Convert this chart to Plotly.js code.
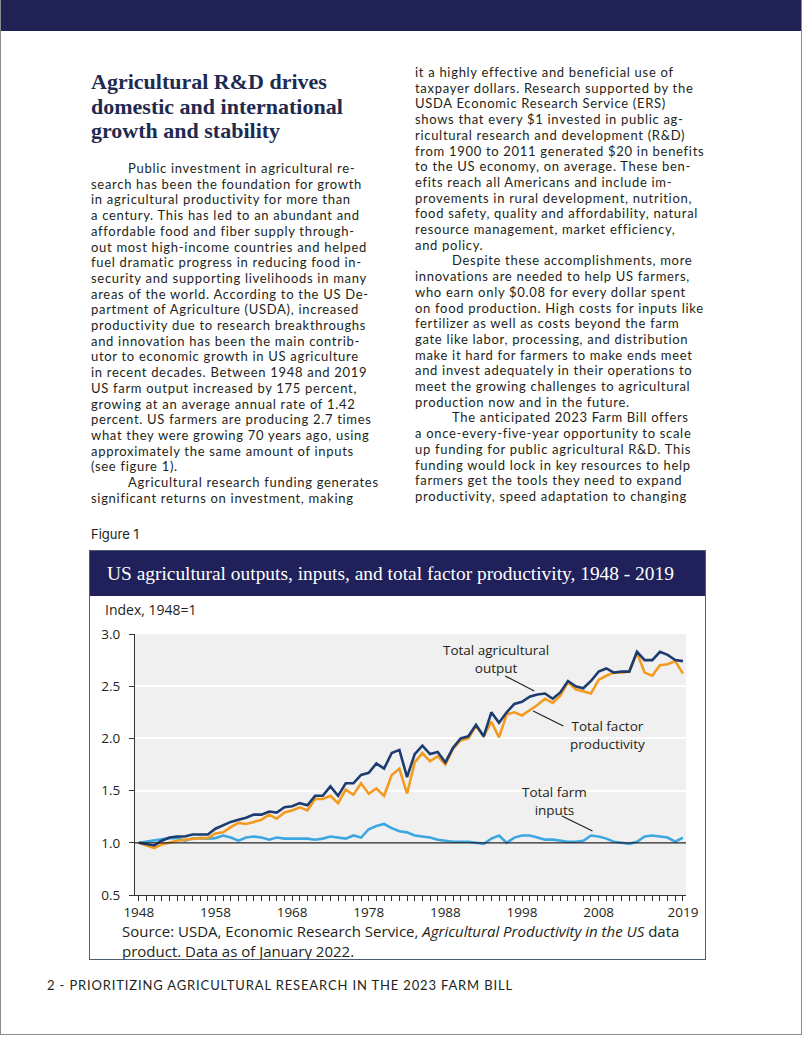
<!DOCTYPE html>
<html>
<head>
<meta charset="utf-8">
<script src="https://cdn.plot.ly/plotly-3.0.1.min.js"></script>
<style>
  html, body { margin:0; padding:0; background:#fff; }
  #page { position:relative; width:802px; height:1037px; overflow:hidden; background:#fff; }
  .band { position:absolute; left:0; top:0; width:802px; height:31px; background:#1f2252; }
  .frame { position:absolute; left:0; top:0; width:800px; height:1034px; border:1px solid #8a8a8a; border-top:none; }
  .heading { position:absolute; left:91px; top:70px; font-family:"Liberation Serif", serif; font-weight:bold; font-size:22px; line-height:24.5px; color:#1e2a4f; white-space:nowrap; }
  .col { position:absolute; font-family:"Lato", sans-serif; font-size:13px; letter-spacing:0.7px; line-height:15.7px; color:#231f20; white-space:nowrap; }
  .col div.ind { padding-left:37px; }
  .fig { position:absolute; left:91px; top:526px; font-family:"Inter", sans-serif; font-size:13px; color:#231f20; }
  .footer { position:absolute; left:47px; top:977px; font-family:"Lato", sans-serif; font-size:13px; letter-spacing:0.85px; color:#231f20; white-space:nowrap; }
  #chart { position:absolute; left:90px; top:551px; width:616px; height:409px; }
  .box { position:absolute; left:89px; top:550px; width:615px; height:408px; border:1.5px solid #4e5d73; pointer-events:none; }
</style>
</head>
<body>
<div id="page">
  <div class="band"></div>
  <div class="frame"></div>
  <div class="heading">Agricultural R&amp;D drives<br>domestic and international<br>growth and stability</div>

  <div class="col" style="left:91px; top:161px;">
    <div class="ind">Public investment in agricultural re-</div>
    <div>search has been the foundation for growth</div>
    <div>in agricultural productivity for more than</div>
    <div>a century. This has led to an abundant and</div>
    <div>affordable food and fiber supply through-</div>
    <div>out most high-income countries and helped</div>
    <div>fuel dramatic progress in reducing food in-</div>
    <div>security and supporting livelihoods in many</div>
    <div>areas of the world. According to the US De-</div>
    <div>partment of Agriculture (USDA), increased</div>
    <div>productivity due to research breakthroughs</div>
    <div>and innovation has been the main contrib-</div>
    <div>utor to economic growth in US agriculture</div>
    <div>in recent decades. Between 1948 and 2019</div>
    <div>US farm output increased by 175 percent,</div>
    <div>growing at an average annual rate of 1.42</div>
    <div>percent. US farmers are producing 2.7 times</div>
    <div>what they were growing 70 years ago, using</div>
    <div>approximately the same amount of inputs</div>
    <div>(see figure 1).</div>
    <div class="ind">Agricultural research funding generates</div>
    <div>significant returns on investment, making</div>
  </div>

  <div class="col" style="left:415px; top:65px;">
    <div>it a highly effective and beneficial use of</div>
    <div>taxpayer dollars. Research supported by the</div>
    <div>USDA Economic Research Service (ERS)</div>
    <div>shows that every $1 invested in public ag-</div>
    <div>ricultural research and development (R&amp;D)</div>
    <div>from 1900 to 2011 generated $20 in benefits</div>
    <div>to the US economy, on average. These ben-</div>
    <div>efits reach all Americans and include im-</div>
    <div>provements in rural development, nutrition,</div>
    <div>food safety, quality and affordability, natural</div>
    <div>resource management, market efficiency,</div>
    <div>and policy.</div>
    <div class="ind">Despite these accomplishments, more</div>
    <div>innovations are needed to help US farmers,</div>
    <div>who earn only $0.08 for every dollar spent</div>
    <div>on food production. High costs for inputs like</div>
    <div>fertilizer as well as costs beyond the farm</div>
    <div>gate like labor, processing, and distribution</div>
    <div>make it hard for farmers to make ends meet</div>
    <div>and invest adequately in their operations to</div>
    <div>meet the growing challenges to agricultural</div>
    <div>production now and in the future.</div>
    <div class="ind">The anticipated 2023 Farm Bill offers</div>
    <div>a once-every-five-year opportunity to scale</div>
    <div>up funding for public agricultural R&amp;D. This</div>
    <div>funding would lock in key resources to help</div>
    <div>farmers get the tools they need to expand</div>
    <div>productivity, speed adaptation to changing</div>
  </div>

  <div class="fig">Figure 1</div>
  <div id="chart"></div>
  <div class="box"></div>
  <div class="footer">2 - PRIORITIZING AGRICULTURAL RESEARCH IN THE 2023 FARM BILL</div>
</div>

<script>
const years = [1948,1949,1950,1951,1952,1953,1954,1955,1956,1957,
  1958,1959,1960,1961,1962,1963,1964,1965,1966,1967,
  1968,1969,1970,1971,1972,1973,1974,1975,1976,1977,
  1978,1979,1980,1981,1982,1983,1984,1985,1986,1987,
  1988,1989,1990,1991,1992,1993,1994,1995,1996,1997,
  1998,1999,2000,2001,2002,2003,2004,2005,2006,2007,
  2008,2009,2010,2011,2012,2013,2014,2015,2016,2017,
  2018,2019];

const totalOutput = [1.00,0.99,0.975,1.02,1.05,1.06,1.06,1.08,1.08,1.08,
  1.135,1.17,1.20,1.22,1.24,1.27,1.27,1.30,1.29,1.34,
  1.35,1.38,1.36,1.45,1.45,1.54,1.45,1.57,1.57,1.65,
  1.67,1.76,1.71,1.86,1.89,1.63,1.85,1.93,1.85,1.87,
  1.77,1.91,2.00,2.02,2.13,2.02,2.25,2.15,2.25,2.33,
  2.35,2.40,2.42,2.43,2.38,2.44,2.55,2.50,2.48,2.55,
  2.64,2.67,2.63,2.64,2.64,2.83,2.75,2.75,2.83,2.80,
  2.75,2.74];

const totalFactorProductivity = [1.00,0.975,0.95,0.985,1.005,1.02,1.03,1.04,1.045,1.045,
  1.09,1.10,1.15,1.19,1.18,1.20,1.22,1.27,1.23,1.29,
  1.31,1.34,1.31,1.42,1.42,1.45,1.38,1.51,1.46,1.57,
  1.47,1.52,1.45,1.65,1.71,1.47,1.77,1.86,1.78,1.83,
  1.75,1.90,1.98,2.00,2.12,2.02,2.16,2.01,2.23,2.25,
  2.22,2.27,2.32,2.38,2.34,2.41,2.54,2.47,2.45,2.43,
  2.56,2.60,2.63,2.63,2.64,2.82,2.63,2.60,2.70,2.71,
  2.74,2.62];

const totalFarmInputs = [1.00,1.01,1.02,1.03,1.045,1.045,1.02,1.04,1.045,1.04,
  1.045,1.07,1.05,1.02,1.05,1.06,1.05,1.03,1.05,1.04,
  1.04,1.04,1.04,1.03,1.04,1.06,1.05,1.04,1.07,1.05,
  1.13,1.16,1.18,1.14,1.11,1.10,1.07,1.06,1.05,1.03,
  1.02,1.01,1.01,1.01,1.00,0.99,1.04,1.07,1.00,1.05,
  1.07,1.07,1.05,1.03,1.03,1.02,1.01,1.01,1.02,1.07,
  1.06,1.04,1.01,1.00,0.99,1.01,1.06,1.07,1.06,1.05,
  1.01,1.05];

const labelYears = [1948,1958,1968,1978,1988,1998,2008,2019];
const yTicks = [0.5,1.0,1.5,2.0,2.5,3.0];
const seriesNames = ['Total farm inputs','Total factor productivity','Total agricultural output'];
const seriesColors = ['#3ca7e0','#f39b1e','#1d3c6f'];

const traces = [totalFarmInputs, totalFactorProductivity, totalOutput].map((vals, i) => ({
  x: years, y: vals, type: 'scatter', mode: 'lines', name: seriesNames[i],
  line: { color: seriesColors[i], width: 2.6 }, hoverinfo: 'x+y+name'
}));

const txt = { family: 'Open Sans, sans-serif', size: 13.5, color: '#231f20' };
function lbl(text, x, y) {
  return { text: text, x: x, y: y, xref: 'x', yref: 'y', showarrow: false, xanchor: 'center', yanchor: 'middle', font: txt };
}
function leader(x0, y0, x1, y1) {
  return { type: 'line', xref: 'x', yref: 'y', x0: x0, y0: y0, x1: x1, y1: y1, line: { color: '#231f20', width: 1.2 } };
}

const layout = {
  width: 616, height: 409,
  margin: { l: 45, r: 20, t: 83, b: 65 },
  paper_bgcolor: 'rgba(0,0,0,0)',
  plot_bgcolor: '#f0f0f0',
  showlegend: false,
  font: txt,
  title: {
    text: 'US agricultural outputs, inputs, and total factor productivity, 1948 - 2019',
    x: 0.0276, xanchor: 'left', y: 0.946, yanchor: 'middle',
    font: { family: 'Liberation Serif, serif', size: 19.4, color: '#ffffff' }
  },
  xaxis: {
    range: [1947.5, 2019.4], tickvals: years,
    ticktext: years.map(y => labelYears.includes(y) ? String(y) : ''),
    ticks: 'outside', ticklen: 5, tickwidth: 1, tickcolor: '#333',
    showline: true, linecolor: '#333', linewidth: 1,
    showgrid: false, zeroline: false, tickangle: 0, fixedrange: true,
    tickfont: txt
  },
  yaxis: {
    range: [0.5, 3.0], tickvals: yTicks, tickformat: '.1f',
    ticks: 'outside', ticklen: 5, tickwidth: 1, tickcolor: '#333',
    showline: true, linecolor: '#333', linewidth: 1,
    showgrid: true, gridcolor: '#ffffff', gridwidth: 2, zeroline: false,
    ticklabelstandoff: 6, fixedrange: true, tickfont: txt
  },
  shapes: [
    { type: 'rect', xref: 'paper', yref: 'paper', x0: -0.0817, x1: 1.0363, y0: 1.1456, y1: 1.318,
      fillcolor: '#20205a', line: { width: 0 }, layer: 'below' },
    { type: 'line', xref: 'paper', yref: 'y', x0: 0, x1: 1, y0: 1, y1: 1, line: { color: '#231f20', width: 1.2 } },
    leader(1995.8, 2.598, 1999.6, 2.454),
    leader(1999.45, 2.262, 2003.4, 2.119),
    leader(2003.2, 1.257, 2007.2, 1.113)
  ],
  annotations: [
    { text: 'Index, 1948=1', xref: 'paper', yref: 'paper', x: -0.058, y: 1.092, xanchor: 'left', yanchor: 'middle', showarrow: false,
      font: { family: 'Open Sans, sans-serif', size: 14, color: '#231f20' } },
    lbl('Total agricultural<br>output', 1994.6, 2.756),
    lbl('Total factor<br>productivity', 2009.1, 2.033),
    lbl('Total farm<br>inputs', 2002.3, 1.40),
    { text: 'Source: USDA, Economic Research Service, <i>Agricultural Productivity in the US</i> data<br>product. Data as of January 2022.',
      xref: 'paper', yref: 'paper', align: 'left',
      x: -0.0272, y: -0.1765, xanchor: 'left', yanchor: 'middle', showarrow: false,
      font: { family: 'Open Sans, sans-serif', size: 15, color: '#231f20' } }
  ]
};

Plotly.newPlot('chart', traces, layout, { displayModeBar: false });
</script>
</body>
</html>
